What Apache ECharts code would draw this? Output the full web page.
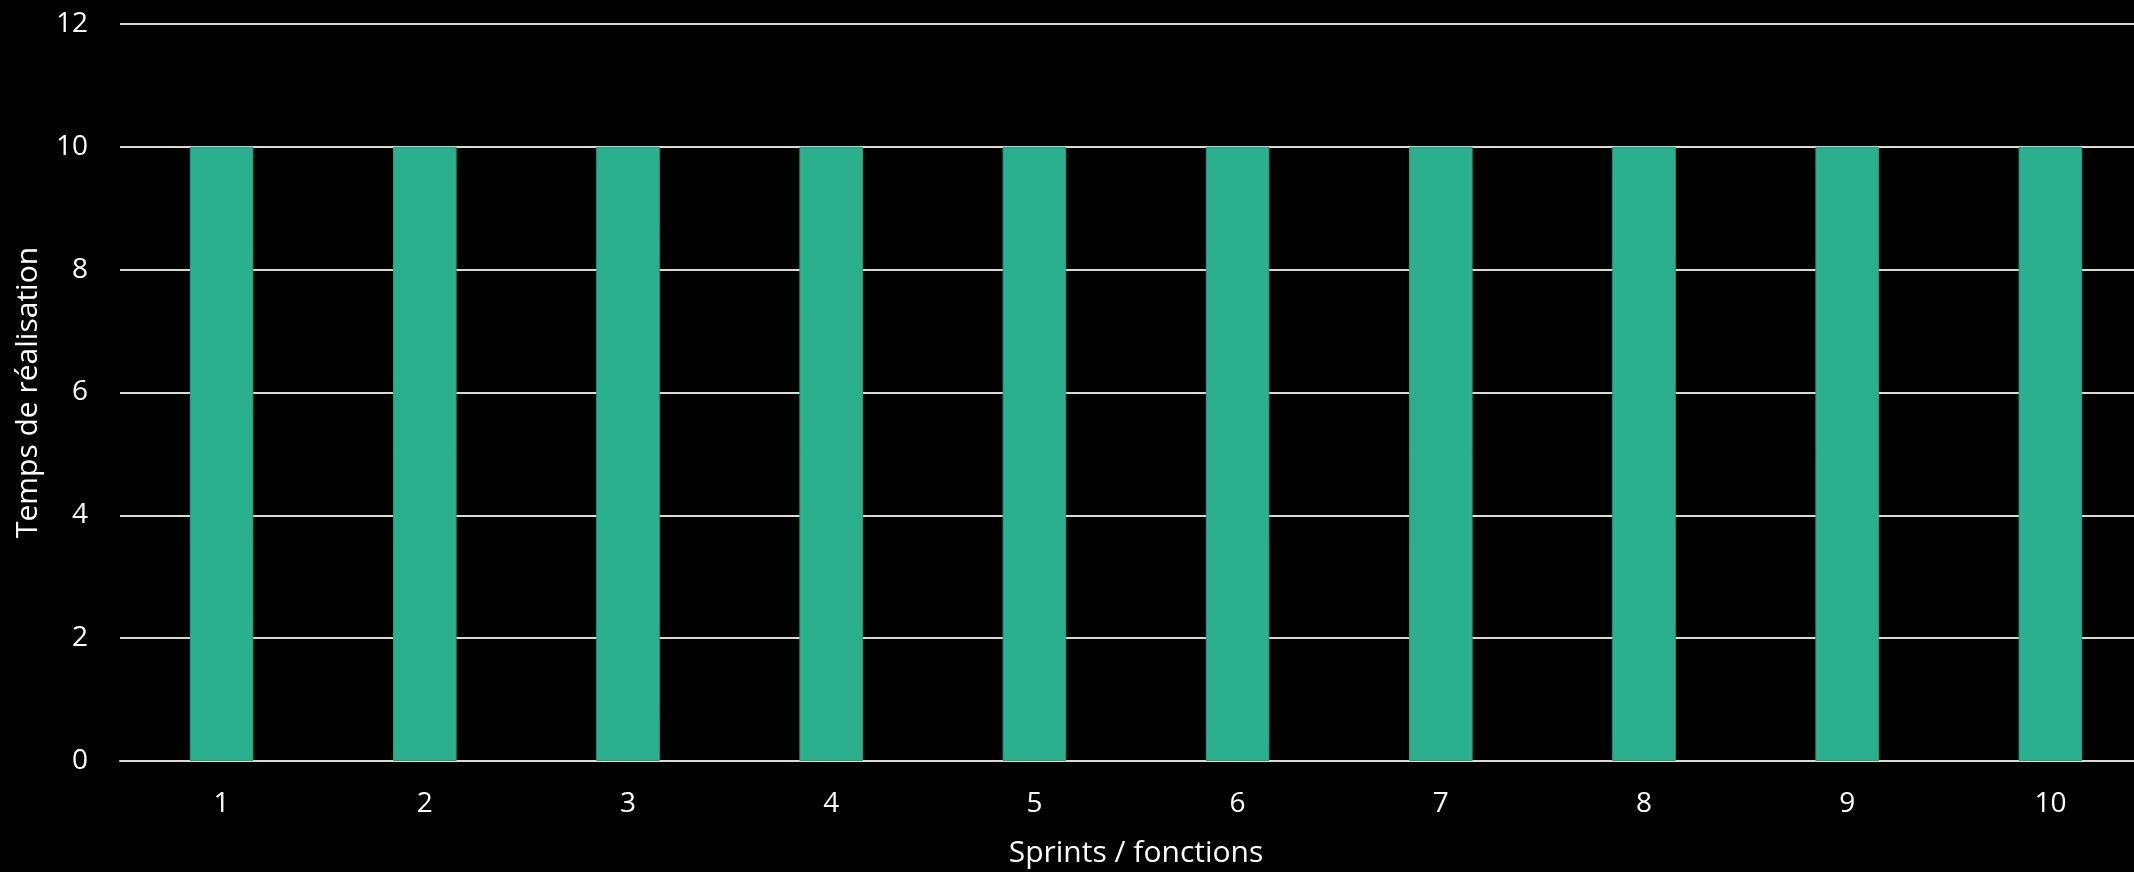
<!DOCTYPE html>
<html>
<head>
<meta charset="utf-8">
<script src="https://cdn.jsdelivr.net/npm/echarts@6/dist/echarts.min.js"></script>
<style>
html,body{margin:0;padding:0;background:#000;}
#chart{width:2134px;height:872px;}
</style>
</head>
<body>
<div id="chart"></div>
<script>
const categories = ['1','2','3','4','5','6','7','8','9','10'];
const values = [10,10,10,10,10,10,10,10,10,10];
const xAxisName = 'Sprints / fonctions';
const yAxisName = 'Temps de réalisation';

const FONT = '"Open Sans", sans-serif';
const chart = echarts.init(document.getElementById('chart'));
chart.setOption({
  backgroundColor: '#000000',
  animation: false,
  grid: {left: 120, top: 24, height: 737, width: 2032, containLabel: false, outerBoundsMode: 'none'},
  xAxis: {
    type: 'category',
    data: categories,
    name: xAxisName,
    nameLocation: 'middle',
    nameGap: 77,
    nameTextStyle: {color: '#ffffff', fontSize: 30, fontFamily: FONT},
    axisLine: {lineStyle: {color: '#d9d9d9', width: 2}},
    axisTick: {show: false},
    axisLabel: {color: '#ffffff', fontSize: 28, fontFamily: FONT, margin: 29}
  },
  yAxis: {
    type: 'value',
    min: 0, max: 12, interval: 2,
    name: yAxisName,
    nameLocation: 'middle',
    nameGap: 77,
    nameTextStyle: {color: '#ffffff', fontSize: 30, fontFamily: FONT},
    axisLine: {show: false},
    axisTick: {show: false},
    splitLine: {lineStyle: {color: '#d9d9d9', width: 2}},
    axisLabel: {color: '#ffffff', fontSize: 28, fontFamily: FONT, margin: 32}
  },
  series: [{
    type: 'bar',
    data: values,
    barWidth: '31.3%',
    itemStyle: {color: '#2bb08e', borderColor: '#24a07f', borderWidth: 1}
  }]
});
</script>
</body>
</html>
